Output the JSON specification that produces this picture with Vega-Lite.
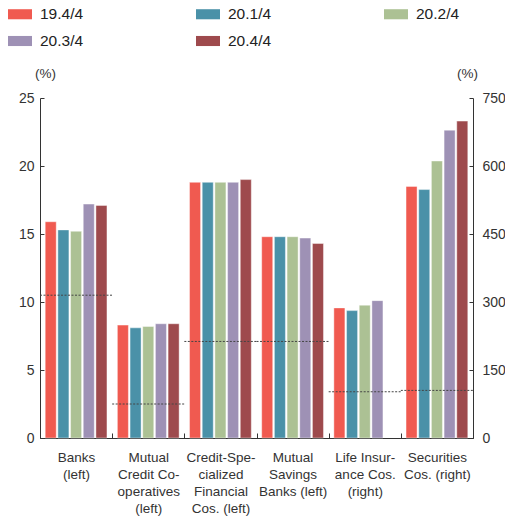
{
  "$schema": "https://vega.github.io/schema/vega-lite/v6.json",
  "width": 433,
  "height": 340,
  "autosize": {"type": "none"},
  "padding": {"left": 40, "top": 98, "right": 32, "bottom": 81},
  "config": {
    "font": "Liberation Sans",
    "view": {"stroke": null},
    "axis": {"domainColor": "#333", "tickColor": "#333", "labelColor": "#333", "titleColor": "#333", "grid": false, "labelFont": "Liberation Sans", "titleFont": "Liberation Sans"}
  },
  "datasets": {
    "bars": [
      {"cat": "Banks (left)", "period": "19.4/4", "value": 15.9, "side": "left"},
      {"cat": "Banks (left)", "period": "20.1/4", "value": 15.3, "side": "left"},
      {"cat": "Banks (left)", "period": "20.2/4", "value": 15.2, "side": "left"},
      {"cat": "Banks (left)", "period": "20.3/4", "value": 17.2, "side": "left"},
      {"cat": "Banks (left)", "period": "20.4/4", "value": 17.1, "side": "left"},
      {"cat": "Mutual Credit Co-operatives (left)", "period": "19.4/4", "value": 8.3, "side": "left"},
      {"cat": "Mutual Credit Co-operatives (left)", "period": "20.1/4", "value": 8.1, "side": "left"},
      {"cat": "Mutual Credit Co-operatives (left)", "period": "20.2/4", "value": 8.2, "side": "left"},
      {"cat": "Mutual Credit Co-operatives (left)", "period": "20.3/4", "value": 8.4, "side": "left"},
      {"cat": "Mutual Credit Co-operatives (left)", "period": "20.4/4", "value": 8.4, "side": "left"},
      {"cat": "Credit-Specialized Financial Cos. (left)", "period": "19.4/4", "value": 18.8, "side": "left"},
      {"cat": "Credit-Specialized Financial Cos. (left)", "period": "20.1/4", "value": 18.8, "side": "left"},
      {"cat": "Credit-Specialized Financial Cos. (left)", "period": "20.2/4", "value": 18.8, "side": "left"},
      {"cat": "Credit-Specialized Financial Cos. (left)", "period": "20.3/4", "value": 18.8, "side": "left"},
      {"cat": "Credit-Specialized Financial Cos. (left)", "period": "20.4/4", "value": 19.0, "side": "left"},
      {"cat": "Mutual Savings Banks (left)", "period": "19.4/4", "value": 14.8, "side": "left"},
      {"cat": "Mutual Savings Banks (left)", "period": "20.1/4", "value": 14.8, "side": "left"},
      {"cat": "Mutual Savings Banks (left)", "period": "20.2/4", "value": 14.8, "side": "left"},
      {"cat": "Mutual Savings Banks (left)", "period": "20.3/4", "value": 14.7, "side": "left"},
      {"cat": "Mutual Savings Banks (left)", "period": "20.4/4", "value": 14.3, "side": "left"},
      {"cat": "Life Insurance Cos. (right)", "period": "19.4/4", "value": 287, "side": "right"},
      {"cat": "Life Insurance Cos. (right)", "period": "20.1/4", "value": 281, "side": "right"},
      {"cat": "Life Insurance Cos. (right)", "period": "20.2/4", "value": 293, "side": "right"},
      {"cat": "Life Insurance Cos. (right)", "period": "20.3/4", "value": 303, "side": "right"},
      {"cat": "Securities Cos. (right)", "period": "19.4/4", "value": 555, "side": "right"},
      {"cat": "Securities Cos. (right)", "period": "20.1/4", "value": 548, "side": "right"},
      {"cat": "Securities Cos. (right)", "period": "20.2/4", "value": 611, "side": "right"},
      {"cat": "Securities Cos. (right)", "period": "20.3/4", "value": 679, "side": "right"},
      {"cat": "Securities Cos. (right)", "period": "20.4/4", "value": 699, "side": "right"}
    ],
    "refs": [
      {"cat": "Banks (left)", "value": 10.5, "side": "left"},
      {"cat": "Mutual Credit Co-operatives (left)", "value": 2.5, "side": "left"},
      {"cat": "Credit-Specialized Financial Cos. (left)", "value": 7.1, "side": "left"},
      {"cat": "Mutual Savings Banks (left)", "value": 7.1, "side": "left"},
      {"cat": "Life Insurance Cos. (right)", "value": 102, "side": "right"},
      {"cat": "Securities Cos. (right)", "value": 105, "side": "right"}
    ]
  },
  "encoding": {
    "x": {
      "field": "cat", "type": "nominal", "sort": null, "title": null,
      "scale": {"domain": ["Banks (left)", "Mutual Credit Co-operatives (left)", "Credit-Specialized Financial Cos. (left)", "Mutual Savings Banks (left)", "Life Insurance Cos. (right)", "Securities Cos. (right)"], "paddingInner": 0, "paddingOuter": 0},
      "axis": {
        "labelAngle": 0, "tickBand": "extent", "tickSize": -5, "labelPadding": 17, "labelFontSize": 13.5, "labelLineHeight": 17, "labelBaseline": "top",
        "labelExpr": "datum.value == 'Banks (left)' ? ['Banks', '(left)'] : datum.value == 'Mutual Credit Co-operatives (left)' ? ['Mutual', 'Credit Co-', 'operatives', '(left)'] : datum.value == 'Credit-Specialized Financial Cos. (left)' ? ['Credit-Spe-', 'cialized', 'Financial', 'Cos. (left)'] : datum.value == 'Mutual Savings Banks (left)' ? ['Mutual', 'Savings', 'Banks (left)'] : datum.value == 'Life Insurance Cos. (right)' ? ['Life Insur-', 'ance Cos.', '(right)'] : datum.value == 'Securities Cos. (right)' ? ['Securities', 'Cos. (right)'] : ''"
      }
    }
  },
  "layer": [
    {
      "layer": [
        {
          "data": {"name": "bars"},
          "transform": [{"filter": "datum.side == 'left'"}],
          "mark": {"type": "bar", "stroke": "#ffffff", "strokeWidth": 0.6, "strokeOpacity": 0.7},
          "encoding": {
            "xOffset": {"field": "period", "type": "nominal", "scale": {"domain": ["19.4/4", "20.1/4", "20.2/4", "20.3/4", "20.4/4"], "paddingInner": 0.13, "paddingOuter": 0.41}},
            "y": {"field": "value", "type": "quantitative"},
            "color": {
              "field": "period", "type": "nominal", "title": null,
              "scale": {"domain": ["19.4/4", "20.1/4", "20.2/4", "20.3/4", "20.4/4"], "range": ["#F05A50", "#4A91A8", "#ACC194", "#9E91B5", "#9E4A4D"]},
              "legend": {
                "orient": "none", "direction": "horizontal", "legendX": -32, "legendY": -96, "columns": 3, "columnPadding": 112, "rowPadding": 6, "gridAlign": "all",
                "symbolType": "M-1,-0.42H1V0.42H-1Z", "symbolSize": 576, "symbolStrokeWidth": 0, "labelOffset": 8,
                "labelFontSize": 15.5, "labelColor": "#222", "labelFont": "Liberation Sans"
              }
            }
          }
        },
        {
          "data": {"name": "refs"},
          "transform": [{"filter": "datum.side == 'left'"}],
          "mark": {"type": "rule", "color": "#444", "strokeWidth": 1, "strokeDash": [2, 1.5]},
          "encoding": {
            "x": {"field": "cat", "type": "nominal", "bandPosition": 0},
            "x2": {"field": "cat", "bandPosition": 1},
            "y": {"field": "value", "type": "quantitative"}
          }
        }
      ],
      "encoding": {
        "y": {
          "scale": {"domain": [0, 25]},
          "axis": {"orient": "left", "values": [0, 5, 10, 15, 20, 25], "tickSize": -4, "labelPadding": 10, "labelFontSize": 14,
            "title": "(%)", "titleAngle": 0, "titleFontSize": 13.5, "titleFontWeight": "normal", "titleX": 5, "titleY": -25, "titleAlign": "center", "titleBaseline": "middle"}
        }
      }
    },
    {
      "layer": [
        {
          "data": {"name": "bars"},
          "transform": [{"filter": "datum.side == 'right'"}],
          "mark": {"type": "bar", "stroke": "#ffffff", "strokeWidth": 0.6, "strokeOpacity": 0.7},
          "encoding": {
            "xOffset": {"field": "period", "type": "nominal", "scale": {"domain": ["19.4/4", "20.1/4", "20.2/4", "20.3/4", "20.4/4"], "paddingInner": 0.13, "paddingOuter": 0.41}},
            "y": {"field": "value", "type": "quantitative"},
            "color": {"field": "period", "type": "nominal"}
          }
        },
        {
          "data": {"name": "refs"},
          "transform": [{"filter": "datum.side == 'right'"}],
          "mark": {"type": "rule", "color": "#444", "strokeWidth": 1, "strokeDash": [2, 1.5]},
          "encoding": {
            "x": {"field": "cat", "type": "nominal", "bandPosition": 0},
            "x2": {"field": "cat", "bandPosition": 1},
            "y": {"field": "value", "type": "quantitative"}
          }
        }
      ],
      "encoding": {
        "y": {
          "scale": {"domain": [0, 750]},
          "axis": {"orient": "right", "values": [0, 150, 300, 450, 600, 750], "tickSize": -4, "labelPadding": 13, "labelFontSize": 14,
            "title": "(%)", "titleAngle": 0, "titleFontSize": 13.5, "titleFontWeight": "normal", "titleX": -6, "titleY": -25, "titleAlign": "center", "titleBaseline": "middle"}
        }
      }
    }
  ],
  "resolve": {"scale": {"y": "independent"}, "axis": {"y": "independent"}}
}
